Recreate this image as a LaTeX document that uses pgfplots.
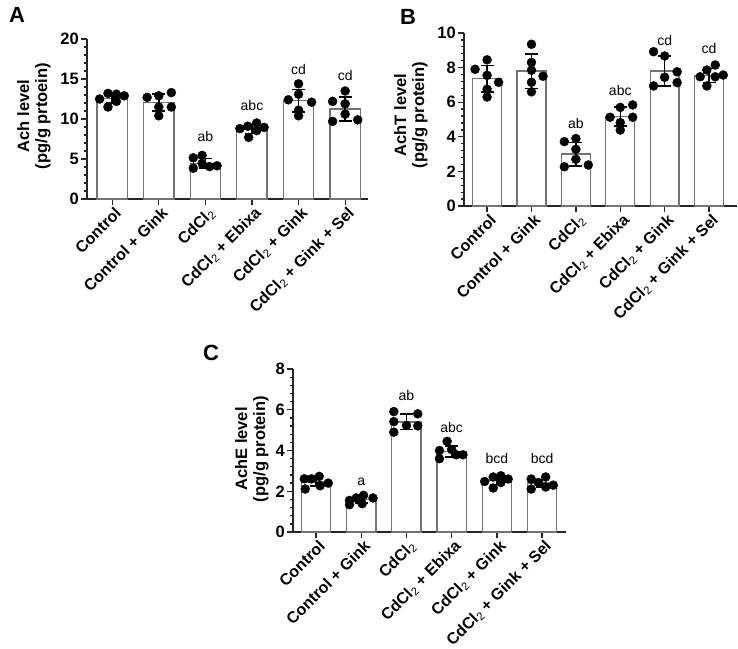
\documentclass[border=0pt]{standalone}
\usepackage{pgfplots}
\pgfplotsset{compat=1.18}
\usepackage{fontspec}
\setmainfont{Liberation Sans}

\newcommand{\cdcl}{CdCl\textsubscript{\mdseries 2}}
\newcommand{\fsize}[1]{\fontsize{#1}{18}\selectfont}

\pgfplotsset{
  panel/.style={
    scale only axis,
    anchor=south west,
    axis lines*=left,
    axis line style={line width=1.5pt, color=black!85, -},
    tick style={line width=1.3pt, color=black!85},
    tick align=outside,
    major tick length=6pt,
    minor tick length=3.5pt,
    minor y tick num=4,
    xtick={0,...,5},
    xticklabels={Control, Control + Gink, \cdcl, \cdcl{} + Ebixa, \cdcl{} + Gink, \cdcl{} + Gink + Sel},
    xticklabel style={rotate=45, anchor=north east, font=\fsize{16}\bfseries, inner sep=0.3pt, xshift=1pt, yshift=-1.5pt},
    yticklabel={\pgfmathprintnumber{\tick}},
    yticklabel style={font=\fsize{16.5}\bfseries, inner sep=2pt},
    /pgf/number format/assume math mode=true,
    ymin=0,
    clip=false,
  },
  bars/.style={
    ybar, bar width=0.65, fill=white, draw=black!55, line width=1.3pt,
    error bars/.cd, y dir=both, y explicit,
    error bar style={black, line width=1.5pt},
    error mark options={rotate=90, mark size=6.5pt, line width=1.5pt, black},
  },
  dots/.style={only marks, mark=*, mark size=4.5pt, black},
}

\begin{document}
\begin{tikzpicture}
\path[use as bounding box] (0,0) rectangle (738pt,648pt);

% ---------------- Panel A: Ach ----------------
\begin{axis}[panel, at={(87pt,449pt)}, width=281pt, height=160pt,
  xmin=-0.54, xmax=5.49, ymax=20, ytick={0,5,...,20}]
\addplot[bars] coordinates {
  (0,12.6) +- (0,0.6)
  (1,12.05) +- (0,1.05)
  (2,4.45) +- (0,0.6)
  (3,8.75) +- (0,0.55)
  (4,12.3) +- (0,1.4)
  (5,11.25) +- (0,1.5)
};
\addplot[dots] coordinates {
  (-0.27,12.5) (-0.09,13.2) (0.09,13.1) (0.26,12.9) (0.09,12.2) (-0.09,11.5)
  (0.75,12.7) (1.0,12.9) (1.27,13.3) (1.0,11.5) (1.27,11.5) (1.0,10.4)
  (1.74,5.15) (1.93,5.45) (1.74,3.85) (1.93,4.45) (2.09,4.05) (2.25,4.15)
  (2.74,8.8) (2.91,9.1) (3.10,9.5) (3.26,8.95) (3.10,8.55) (2.93,7.7)
  (4.0,14.4) (4.0,13.1) (3.78,12.4) (4.28,12.1) (4.0,11.1) (4.0,10.4)
  (5.0,13.5) (4.73,12.2) (5.0,11.9) (5.0,10.6) (4.73,9.7) (5.27,9.9)
};
\node[font=\fsize{14}] at (axis cs:2,7.8) {ab};
\node[font=\fsize{14}] at (axis cs:3,11.75) {abc};
\node[font=\fsize{14}] at (axis cs:4,16.2) {cd};
\node[font=\fsize{14}] at (axis cs:5,15.4) {cd};
\end{axis}

% ---------------- Panel B: AchT ----------------
\begin{axis}[panel, at={(464pt,442pt)}, width=273pt, height=173pt,
  xmin=-0.52, xmax=5.63, ymax=10, ytick={0,2,...,10}]
\addplot[bars] coordinates {
  (0,7.35) +- (0,0.77)
  (1,7.8) +- (0,1.0)
  (2,3.0) +- (0,0.68)
  (3,5.17) +- (0,0.55)
  (4,7.8) +- (0,0.86)
  (5,7.55) +- (0,0.4)
};
\addplot[dots] coordinates {
  (-0.27,7.9) (0,8.45) (0,7.55) (0.26,7.15) (0,6.75) (0,6.3)
  (1.0,9.35) (1.0,8.3) (1.0,7.85) (1.26,7.5) (1.0,7.15) (1.0,6.6)
  (1.74,3.72) (2.0,3.9) (2.0,3.28) (2.0,2.7) (1.74,2.27) (2.28,2.37)
  (2.77,5.13) (3.0,5.7) (3.28,5.84) (3.28,5.13) (3.0,4.82) (3.0,4.39)
  (3.75,8.92) (4.0,8.67) (4.28,7.76) (4.0,7.44) (3.75,6.94) (4.28,7.13)
  (5.14,8.15) (4.95,7.86) (4.8,7.47) (5.14,7.47) (5.32,7.57) (4.95,6.94)
};
\node[font=\fsize{14}] at (axis cs:2,4.78) {ab};
\node[font=\fsize{14}] at (axis cs:3,6.67) {abc};
\node[font=\fsize{14}] at (axis cs:4,9.56) {cd};
\node[font=\fsize{14}] at (axis cs:5,9.11) {cd};
\end{axis}

% ---------------- Panel C: AchE ----------------
\begin{axis}[panel, at={(293pt,116pt)}, width=273pt, height=163pt,
  xmin=-0.51, xmax=5.53, ymax=8, ytick={0,2,...,8}]
\addplot[bars] coordinates {
  (0,2.45) +- (0,0.2)
  (1,1.6) +- (0,0.17)
  (2,5.4) +- (0,0.38)
  (3,3.95) +- (0,0.28)
  (4,2.52) +- (0,0.2)
  (5,2.4) +- (0,0.18)
};
\addplot[dots] coordinates {
  (-0.26,2.61) (-0.1,2.61) (0.07,2.73) (0.27,2.40) (0.09,2.27) (-0.24,2.11)
  (0.74,1.55) (0.89,1.67) (1.05,1.8) (1.26,1.67) (0.74,1.34) (1.02,1.39)
  (1.72,5.91) (2.25,5.8) (1.72,5.42) (2.0,5.23) (2.25,5.21) (1.72,4.9)
  (2.9,4.45) (2.73,4.0) (3.0,4.05) (3.1,3.79) (3.25,3.79) (2.73,3.6)
  (3.73,2.48) (3.92,2.7) (4.09,2.76) (4.25,2.6) (3.92,2.16) (4.09,2.43)
  (4.76,2.6) (5.08,2.7) (4.92,2.43) (5.25,2.3) (4.76,2.11) (5.08,2.21)
};
\node[font=\fsize{14}] at (axis cs:1,2.48) {a};
\node[font=\fsize{14}] at (axis cs:2,6.68) {ab};
\node[font=\fsize{14}] at (axis cs:3,5.13) {abc};
\node[font=\fsize{14}] at (axis cs:4,3.62) {bcd};
\node[font=\fsize{14}] at (axis cs:5,3.62) {bcd};
\end{axis}

% axis titles and panel letters
\node[rotate=90, align=center, font=\fsize{16.5}\bfseries] at (34pt,532pt) {Ach level\\(pg/g prtoein)};
\node[rotate=90, align=center, font=\fsize{16.5}\bfseries] at (411pt,533pt) {AchT level\\(pg/g protein)};
\node[rotate=90, align=center, font=\fsize{16.5}\bfseries] at (252pt,199pt) {AchE level\\(pg/g protein)};
\node[font=\fontsize{22}{24}\selectfont\bfseries] at (17pt,633pt) {A};
\node[font=\fontsize{22}{24}\selectfont\bfseries] at (408pt,631pt) {B};
\node[font=\fontsize{22}{24}\selectfont\bfseries] at (211pt,295pt) {C};
\end{tikzpicture}
\end{document}
